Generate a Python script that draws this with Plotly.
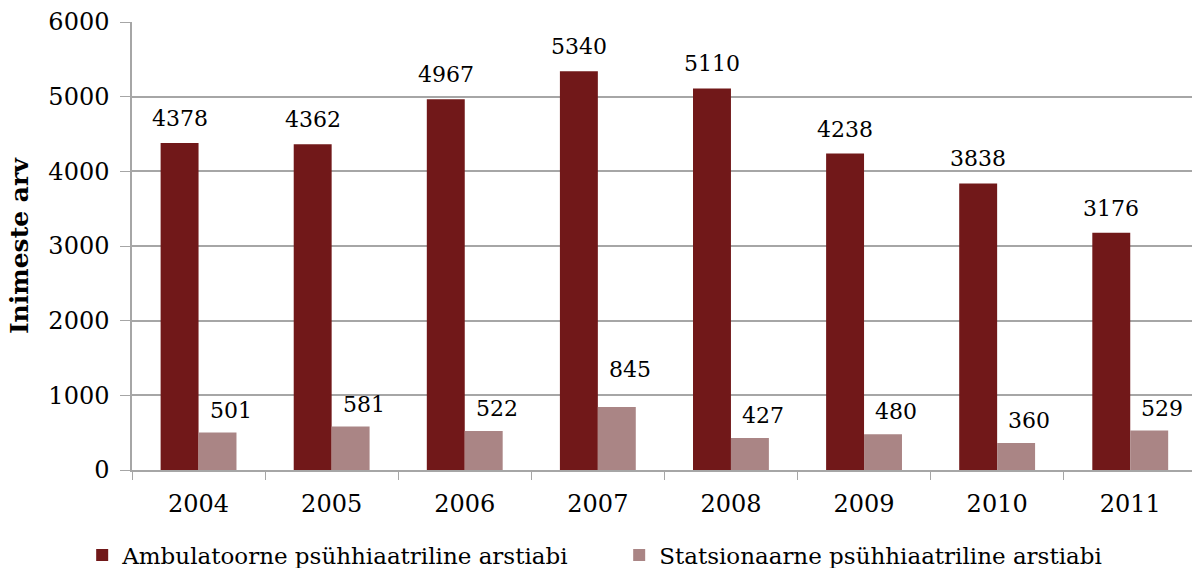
import plotly.graph_objects as go

years = ["2004", "2005", "2006", "2007", "2008", "2009", "2010", "2011"]
ambulatoorne = [4378, 4362, 4967, 5340, 5110, 4238, 3838, 3176]
statsionaarne = [501, 581, 522, 845, 427, 480, 360, 529]
series_names = ["Ambulatoorne psühhiaatriline arstiabi", "Statsionaarne psühhiaatriline arstiabi"]
y_ticks = [0, 1000, 2000, 3000, 4000, 5000, 6000]
y_title = "Inimeste arv"

# style: vertical pixel offsets of the light-bar value labels (as placed in the original)
light_label_yshift = [8, 8, 8, 23, 8, 8, 8, 8]

FONT = "DejaVu Serif"
DARK = "#711819"
LIGHT = "#aa8585"
GRID = "#a6a6a6"

fig = go.Figure()
fig.add_trace(go.Bar(x=years, y=ambulatoorne, name=series_names[0], marker_color=DARK,
                     marker_line_width=0))
fig.add_trace(go.Bar(x=years, y=statsionaarne, name=series_names[1], marker_color=LIGHT,
                     marker_line_width=0))

for i, v in enumerate(ambulatoorne):
    fig.add_annotation(x=i, y=v, text=str(v), showarrow=False, xref="x", yref="y",
                       xshift=-19, yshift=10, yanchor="bottom",
                       font=dict(family=FONT, size=22, color="black"))
for i, v in enumerate(statsionaarne):
    fig.add_annotation(x=i, y=v, text=str(v), showarrow=False, xref="x", yref="y",
                       xshift=32, yshift=light_label_yshift[i], yanchor="bottom",
                       font=dict(family=FONT, size=22, color="black"))

# y-axis title
fig.add_annotation(x=-0.1065, y=0.5, xref="paper", yref="paper", text="<b>" + y_title + "</b>",
                   textangle=-90, showarrow=False, xanchor="center", yanchor="middle",
                   font=dict(family=FONT, size=25, color="black"))

fig.update_layout(
    width=1192, height=568,
    margin=dict(l=132, r=0, t=22, b=98, autoexpand=False),
    paper_bgcolor="white", plot_bgcolor="white",
    barmode="group", bargap=0.43, bargroupgap=0,
    font=dict(family=FONT, size=22, color="black"),
    showlegend=True,
    legend=dict(orientation="h", x=-0.047, y=-0.19, xanchor="left", yanchor="middle",
                font=dict(family=FONT, size=23, color="black"),
                entrywidth=492, entrywidthmode="pixels", itemwidth=30,
                traceorder="normal"),
    xaxis=dict(type="category", showgrid=False, showline=True, linecolor=GRID,
               linewidth=1.5, ticks="outside", tickson="boundaries", ticklen=8,
               tickcolor=GRID, tickfont=dict(family=FONT, size=24),
               ticklabelstandoff=11,
               range=[-0.5, 7.464], fixedrange=True),
    yaxis=dict(range=[0, 6000], tickvals=y_ticks, showgrid=True, gridcolor=GRID,
               gridwidth=1.5, showline=True, linecolor=GRID, linewidth=1.5,
               ticks="outside", ticklen=10, tickcolor=GRID,
               tickfont=dict(family=FONT, size=24), zeroline=False,
               ticklabelstandoff=6),
)

fig.write_html("out.html")
